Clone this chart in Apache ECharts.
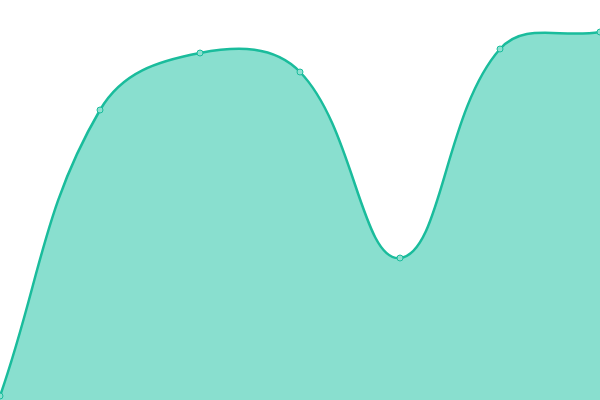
<!DOCTYPE html>
<html>
<head>
<meta charset="utf-8">
<script src="https://cdn.jsdelivr.net/npm/echarts@6/dist/echarts.min.js"></script>
<style>
html, body { margin: 0; padding: 0; background: #fff; }
#main { width: 600px; height: 400px; }
</style>
</head>
<body>
<div id="main"></div>
<script>
var categories = ['1', '2', '3', '4', '5', '6', '7'];
var values = [4, 290, 347, 328, 142, 351, 368];

var lineColor = '#1abc9c';
var fillColor = '#89dfcf';
var tension = 0.4;

// spline control points (computed in pixel space from the axis coords)
function splinePath(pts) {
    var cps = [];
    for (var i = 0; i < pts.length; i++) {
        var p0 = pts[i - 1] || pts[i], p1 = pts[i], p2 = pts[i + 1] || pts[i];
        var d01 = Math.hypot(p1[0] - p0[0], p1[1] - p0[1]);
        var d12 = Math.hypot(p2[0] - p1[0], p2[1] - p1[1]);
        var s01 = d01 / (d01 + d12 || 1);
        var s12 = d12 / (d01 + d12 || 1);
        var fa = tension * s01, fb = tension * s12;
        cps.push({
            prev: [p1[0] - fa * (p2[0] - p0[0]), p1[1] - fa * (p2[1] - p0[1])],
            next: [p1[0] + fb * (p2[0] - p0[0]), p1[1] + fb * (p2[1] - p0[1])]
        });
    }
    var d = 'M' + pts[0][0] + ' ' + pts[0][1];
    for (var j = 1; j < pts.length; j++) {
        var a = cps[j - 1].next, b = cps[j].prev;
        d += ' C' + a[0] + ' ' + a[1] + ' ' + b[0] + ' ' + b[1] + ' ' + pts[j][0] + ' ' + pts[j][1];
    }
    return d;
}

var myChart = echarts.init(document.getElementById('main'));
var option = {
    animation: false,
    grid: { left: 0, right: 0, top: 0, bottom: 0 },
    xAxis: {
        type: 'category',
        boundaryGap: false,
        data: categories,
        show: false
    },
    yAxis: {
        type: 'value',
        min: 0,
        max: 400,
        show: false
    },
    series: [
        {
            type: 'custom',
            data: values,
            z: 1,
            renderItem: function (params, api) {
                if (params.dataIndex !== 0) return;
                var pts = values.map(function (v, i) { return api.coord([i, v]); });
                var line = splinePath(pts);
                var base0 = api.coord([0, 0]), base1 = api.coord([values.length - 1, 0]);
                var area = line + ' L' + base1[0] + ' ' + base1[1] + ' L' + base0[0] + ' ' + base0[1] + ' Z';
                return {
                    type: 'group',
                    children: [
                        { type: 'path', shape: { pathData: area }, style: { fill: fillColor, stroke: null } },
                        { type: 'path', shape: { pathData: line }, style: { fill: null, stroke: lineColor, lineWidth: 2.5 } }
                    ]
                };
            }
        },
        {
            type: 'line',
            data: values,
            z: 3,
            symbol: 'circle',
            symbolSize: 6,
            lineStyle: { width: 0, opacity: 0 },
            itemStyle: { color: '#8ee0d0', borderColor: lineColor, borderWidth: 1 }
        }
    ]
};
myChart.setOption(option);
</script>
</body>
</html>
